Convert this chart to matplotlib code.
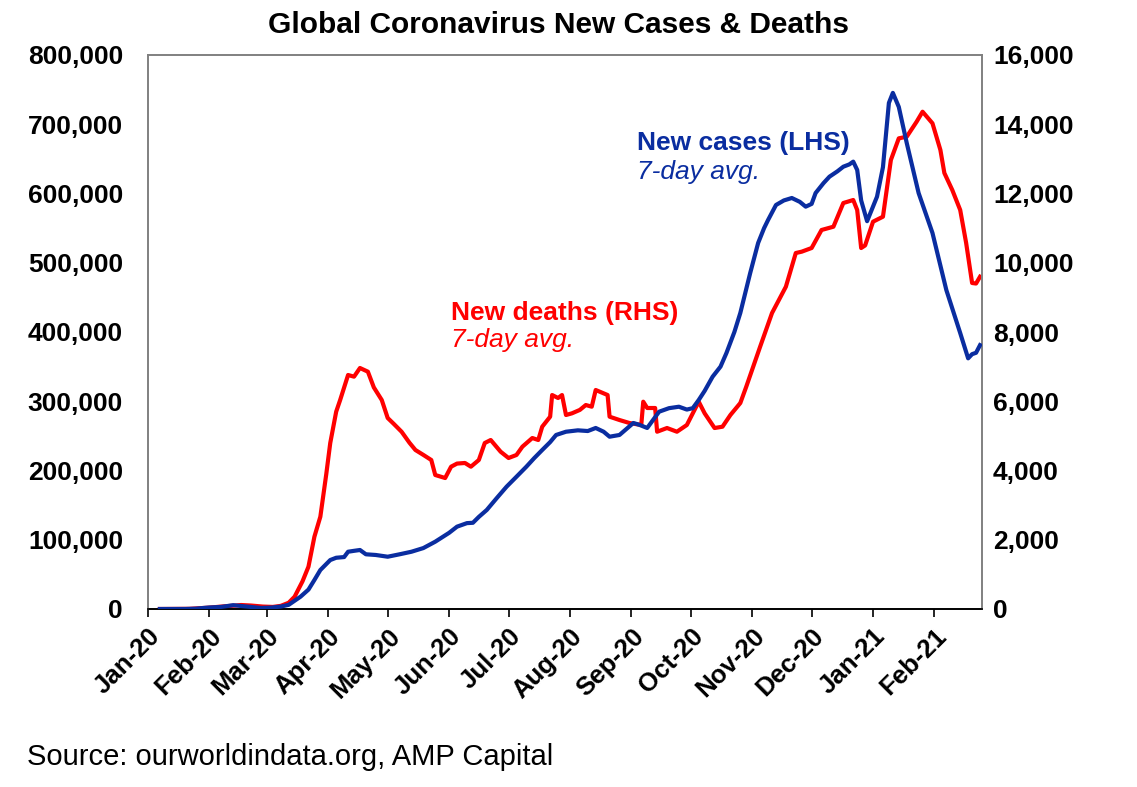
import pandas as pd
import matplotlib
matplotlib.use('Agg')
import matplotlib.pyplot as plt
import matplotlib.dates as mdates
from matplotlib.ticker import FuncFormatter, MultipleLocator

plt.rcParams['font.family'] = ['Liberation Sans', 'DejaVu Sans']

# New cases, 7-day average (LHS)
case_dates = ['2020-01-07', '2020-01-20', '2020-01-25', '2020-02-01', '2020-02-07', '2020-02-13',
              '2020-02-20', '2020-02-27', '2020-03-03', '2020-03-08', '2020-03-12', '2020-03-18',
              '2020-03-22', '2020-03-25', '2020-03-28', '2020-04-02', '2020-04-05', '2020-04-09',
              '2020-04-11', '2020-04-14', '2020-04-17', '2020-04-20', '2020-04-25', '2020-05-01',
              '2020-05-07', '2020-05-13', '2020-05-19', '2020-05-25', '2020-06-01', '2020-06-05',
              '2020-06-10', '2020-06-13', '2020-06-16', '2020-06-20', '2020-06-25', '2020-06-30',
              '2020-07-05', '2020-07-10', '2020-07-14', '2020-07-18', '2020-07-22', '2020-07-25',
              '2020-07-30', '2020-08-05', '2020-08-10', '2020-08-14', '2020-08-18', '2020-08-21',
              '2020-08-26', '2020-09-02', '2020-09-05', '2020-09-09', '2020-09-15', '2020-09-20',
              '2020-09-25', '2020-09-29', '2020-10-02', '2020-10-05', '2020-10-08', '2020-10-12',
              '2020-10-16', '2020-10-19', '2020-10-23', '2020-10-26', '2020-10-31', '2020-11-04',
              '2020-11-07', '2020-11-09', '2020-11-13', '2020-11-17', '2020-11-21', '2020-11-25',
              '2020-11-28', '2020-12-01', '2020-12-03', '2020-12-07', '2020-12-10', '2020-12-14',
              '2020-12-17', '2020-12-20', '2020-12-22', '2020-12-24', '2020-12-26', '2020-12-29',
              '2021-01-03', '2021-01-06', '2021-01-09', '2021-01-11', '2021-01-14', '2021-01-18',
              '2021-01-24', '2021-01-31', '2021-02-07', '2021-02-14', '2021-02-18', '2021-02-20',
              '2021-02-22', '2021-02-24']
cases = [0, 50, 500, 2200, 3000, 5500,
         3500, 1500, 2000, 3500, 6000, 17800,
         28000, 41900, 56300, 70700, 74000, 75000,
         82700, 84000, 85200, 79000, 78000, 75500,
         79000, 82700, 88000, 97200, 110000, 118900,
         124000, 124500, 133000, 143000, 160000, 176600,
         191000, 205500, 218000, 229600, 241000, 251300,
         256000, 258000, 257000, 261400, 256000, 248800,
         251300, 268600, 266000, 261400, 284900, 290000,
         292100, 288000, 290000, 301800, 315000, 335400,
         350000, 369700, 400000, 427500, 485300, 528600,
         550000, 561700, 583400, 590000, 593500, 588000,
         581000, 585000, 600700, 615000, 624300, 632000,
         638700, 642000, 646000, 634000, 590000, 560000,
         595400, 638000, 730800, 745300, 725000, 673000,
         600700, 543000, 460600, 398500, 362000, 368000,
         370000, 381000]

# New deaths, 7-day average (RHS)
death_dates = ['2020-01-07', '2020-01-22', '2020-02-01', '2020-02-08', '2020-02-14', '2020-02-17',
               '2020-02-22', '2020-02-28', '2020-03-04', '2020-03-08', '2020-03-12', '2020-03-15',
               '2020-03-19', '2020-03-22', '2020-03-25', '2020-03-28', '2020-03-31', '2020-04-02',
               '2020-04-05', '2020-04-07', '2020-04-11', '2020-04-14', '2020-04-17', '2020-04-21',
               '2020-04-24', '2020-04-28', '2020-05-01', '2020-05-04', '2020-05-08', '2020-05-12',
               '2020-05-15', '2020-05-19', '2020-05-23', '2020-05-25', '2020-05-30', '2020-06-02',
               '2020-06-05', '2020-06-09', '2020-06-12', '2020-06-16', '2020-06-19', '2020-06-22',
               '2020-06-27', '2020-07-01', '2020-07-05', '2020-07-08', '2020-07-13', '2020-07-16',
               '2020-07-18', '2020-07-22', '2020-07-23', '2020-07-26', '2020-07-28', '2020-07-30',
               '2020-08-02', '2020-08-06', '2020-08-09', '2020-08-12', '2020-08-14', '2020-08-20',
               '2020-08-21', '2020-08-26', '2020-08-31', '2020-09-06', '2020-09-07', '2020-09-09',
               '2020-09-13', '2020-09-14', '2020-09-19', '2020-09-24', '2020-09-29', '2020-10-02',
               '2020-10-05', '2020-10-08', '2020-10-13', '2020-10-17', '2020-10-21', '2020-10-26',
               '2020-10-29', '2020-11-05', '2020-11-11', '2020-11-18', '2020-11-23', '2020-11-26',
               '2020-12-01', '2020-12-06', '2020-12-12', '2020-12-17', '2020-12-22', '2020-12-24',
               '2020-12-26', '2020-12-28', '2021-01-01', '2021-01-06', '2021-01-10', '2021-01-14',
               '2021-01-18', '2021-01-23', '2021-01-26', '2021-01-31', '2021-02-04', '2021-02-06',
               '2021-02-10', '2021-02-14', '2021-02-17', '2021-02-20', '2021-02-22', '2021-02-24']
deaths = [0, 5, 40, 75, 100, 115,
          100, 70, 60, 90, 180, 355,
          800, 1222, 2088, 2666, 3900, 4794,
          5700, 6036, 6758, 6710, 6960, 6854,
          6400, 6036, 5516, 5350, 5120, 4800,
          4592, 4450, 4303, 3870, 3783, 4110,
          4200, 4217, 4110, 4303, 4794, 4881,
          4543, 4361, 4448, 4688, 4938, 4881,
          5265, 5554, 6180, 6094, 6180, 5603,
          5651, 5750, 5891, 5843, 6325, 6180,
          5554, 5458, 5372, 5314, 5987, 5805,
          5805, 5120, 5227, 5120, 5314, 5651,
          5987, 5651, 5227, 5265, 5603, 5949,
          6420, 7575, 8548, 9308, 10281, 10320,
          10426, 10946, 11041, 11725, 11812, 11523,
          10426, 10500, 11186, 11330, 12967, 13593,
          13640, 14073, 14362, 14027, 13256, 12592,
          12101, 11523, 10570, 9415, 9400, 9597]

blue = '#0A2DA0'
red = '#FF0000'

fig = plt.figure(figsize=(11.37, 7.87), dpi=100)
ax = fig.add_axes([148 / 1137, 1 - 609 / 787, 834 / 1137, 554 / 787])
ax2 = ax.twinx()

ax.plot(pd.to_datetime(case_dates), cases, color=blue, lw=3, zorder=3)
ax2.plot(pd.to_datetime(death_dates), deaths, color=red, lw=3)

# put the cases line on top of the deaths line
ax.set_zorder(ax2.get_zorder() + 1)
ax.patch.set_visible(False)

ax.set_xlim(pd.Timestamp('2020-01-01'), pd.Timestamp('2021-02-25'))
ax.set_ylim(0, 800000)
ax2.set_ylim(0, 16000)
ax.yaxis.set_major_locator(MultipleLocator(100000))
ax2.yaxis.set_major_locator(MultipleLocator(2000))
comma = FuncFormatter(lambda v, p: f'{int(v):,}')
ax.yaxis.set_major_formatter(comma)
ax2.yaxis.set_major_formatter(comma)

ax.xaxis.set_major_locator(mdates.MonthLocator())
ax.xaxis.set_major_formatter(mdates.DateFormatter('%b-%y'))
for lab in ax.get_xticklabels():
    lab.set_rotation(45)
    lab.set_ha('right')
    lab.set_rotation_mode('anchor')

ax.tick_params(axis='x', direction='out', length=6, width=1.2, pad=5,
               labelsize=18.5)
ax.tick_params(axis='y', length=0, pad=18, labelsize=19)
ax2.tick_params(axis='y', length=0, pad=8, labelsize=19)
for a in (ax, ax2):
    for lab in a.get_xticklabels() + a.get_yticklabels():
        lab.set_fontweight('bold')
    for side in ('left', 'right', 'top'):
        a.spines[side].set_color('#808080')
        a.spines[side].set_linewidth(1.2)
    a.spines['bottom'].set_color('black')
    a.spines['bottom'].set_linewidth(1.2)

fig.text(558 / 1137, 1 - 25 / 787, 'Global Coronavirus New Cases & Deaths',
         ha='center', va='center', fontsize=21.5, fontweight='bold')

# series annotations
ax.text(pd.Timestamp('2020-09-04'), 673000, 'New cases (LHS)', color=blue,
        fontsize=19, fontweight='bold', ha='left', va='center')
ax.text(pd.Timestamp('2020-09-04'), 631000, '7-day avg.', color=blue,
        fontsize=19, style='italic', ha='left', va='center')
ax.text(pd.Timestamp('2020-06-02'), 427000, 'New deaths (RHS)', color=red,
        fontsize=19, fontweight='bold', ha='left', va='center')
ax.text(pd.Timestamp('2020-06-02'), 388000, '7-day avg.', color=red,
        fontsize=19, style='italic', ha='left', va='center')

fig.text(27 / 1137, 1 - 757 / 787, 'Source: ourworldindata.org, AMP Capital',
         ha='left', va='center', fontsize=21)

fig.savefig('out.png', dpi=100)
